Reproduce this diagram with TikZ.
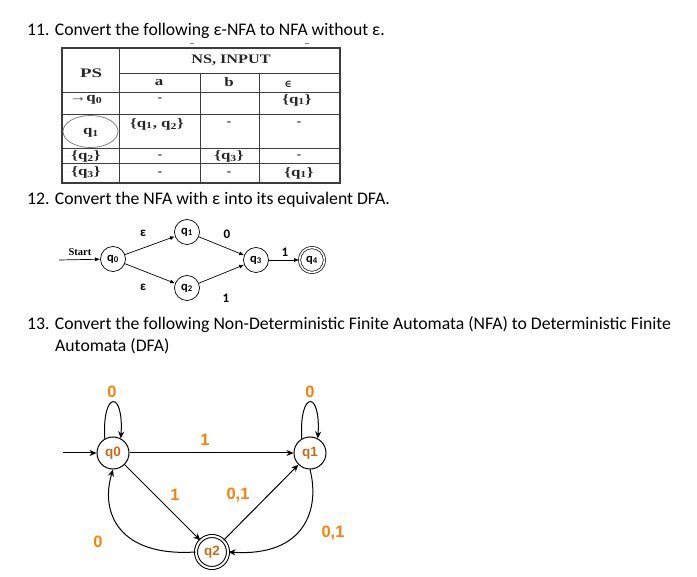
\documentclass[tikz,border=0pt]{standalone}
\usepackage{fontspec}
\setmainfont{Carlito}
\newfontfamily\tabfont{Liberation Serif}
\newfontfamily\arialfont{Liberation Sans}
\usetikzlibrary{arrows.meta}
\definecolor{lblorange}{RGB}{245,130,10}
\definecolor{nodeorange}{RGB}{200,105,25}
\definecolor{tabline}{RGB}{60,60,60}
\newcommand{\tw}[1]{\scalebox{1.3}[1]{#1}}
\begin{document}
\begin{tikzpicture}[x=1pt,y=-1pt,
  heading/.style={anchor=base west, inner sep=0pt, font=\fontsize{17.7}{20}\selectfont},
  tabtxt/.style={inner sep=0pt, font=\tabfont\bfseries\fontsize{13}{14}\selectfont, text=black!85},
  tabln/.style={draw=tabline, line width=0.9pt},
  nfastate/.style={circle, draw, line width=0.7pt, minimum size=25pt, inner sep=0pt, font=\bfseries\fontsize{12.5}{13}\selectfont},
  nfaedge/.style={line width=0.7pt, -{Latex[length=5pt,width=4pt]}},
  nfalbl/.style={inner sep=0pt, font=\bfseries\fontsize{13}{14}\selectfont},
  dfastate/.style={circle, draw, line width=1pt, minimum size=32pt, inner sep=0pt, font=\arialfont\bfseries\fontsize{13.5}{14}\selectfont, text=nodeorange},
  dfaedge/.style={line width=1pt, -{Stealth[length=7pt,width=6pt]}},
  dfalbl/.style={inner sep=0pt, font=\arialfont\bfseries\fontsize{16.5}{17}\selectfont, text=lblorange}
]
\useasboundingbox (0,0) rectangle (697,577);

% ---------- Question 11 ----------
\node[heading] (h11) at (27,36) {11. Convert the following ε-NFA to NFA without ε.};

% small marks above table
\draw[gray, line width=0.8pt] (190,43) -- (194,43);
\draw[gray, line width=0.8pt] (305,43) -- (309,43);

% table grid
\draw[tabln, line width=1.2pt] (62,48) rectangle (340,183);
\draw[tabln] (119,48) -- (119,183);
\draw[tabln] (119,73) -- (340,73);
\draw[tabln] (62,92) -- (340,92);
\draw[tabln] (200,73) -- (200,183);
\draw[tabln] (259,73) -- (259,183);
\draw[tabln] (62,114) -- (340,114);
\draw[tabln] (62,148) -- (340,148);
\draw[tabln] (62,163) -- (340,163);

% table text
\node[tabtxt] (tps) at (91,73) {\scalebox{1.45}[1]{PS}};
\node[tabtxt] (tns) at (231,60) {\scalebox{1.25}[1]{NS, INPUT}};
\node[tabtxt] (ta) at (159,83) {\tw{a}};
\node[tabtxt] (tb) at (229,82) {\tw{b}};
\node[tabtxt] (te) at (288,84) {\fontspec{DejaVu Serif}\fontsize{10}{11}\selectfont ∈};
\node[tabtxt] (r0c0) at (86,100) {\tw{→q\textsubscript{0}}};
\node[tabtxt] (r0c1) at (160,100) {-};
\node[tabtxt] (r0c3) at (297,100) {\tw{\{q\textsubscript{1}\}}};
\draw[gray, line width=0.8pt] (90.5,131.5) ellipse [x radius=27.5, y radius=16];
\node[tabtxt] (r1c0) at (91,133) {\tw{q\textsubscript{1}}};
\node[tabtxt] (r1c1) at (157,124) {\tw{\{q\textsubscript{1}, q\textsubscript{2}\}}};
\node[tabtxt] (r1c2) at (229,124) {-};
\node[tabtxt] (r1c3) at (299,124) {-};
\node[tabtxt] (r2c0) at (86,156) {\tw{\{q\textsubscript{2}\}}};
\node[tabtxt] (r2c1) at (160,157) {-};
\node[tabtxt] (r2c2) at (229,156) {\tw{\{q\textsubscript{3}\}}};
\node[tabtxt] (r2c3) at (299,157) {-};
\node[tabtxt] (r3c0) at (86,172) {\tw{\{q\textsubscript{3}\}}};
\node[tabtxt] (r3c1) at (160,174) {-};
\node[tabtxt] (r3c2) at (229,174) {-};
\node[tabtxt] (r3c3) at (299,173) {\tw{\{q\textsubscript{1}\}}};

% ---------- Question 12 ----------
\node[heading] (h12) at (27,205) {12. Convert the NFA with ε into its equivalent DFA.};

\node[nfastate] (n0) at (113,259) {q\textsubscript{0}};
\node[nfastate] (n1) at (187,232) {q\textsubscript{1}};
\node[nfastate] (n2) at (187,288) {q\textsubscript{2}};
\node[nfastate] (n3) at (256,260) {q\textsubscript{3}};
\node[nfastate, double, double distance=1.6pt] (n4) at (312,260) {q\textsubscript{4}};
\coordinate (nstart) at (59,260);

\draw[nfaedge] (nstart) -- (n0);
\draw[nfaedge] (n0) -- (n1);
\draw[nfaedge] (n0) -- (n2);
\draw[nfaedge] (n1) -- (n3);
\draw[nfaedge] (n2) -- (n3);
\draw[nfaedge] (n3) -- (n4);

\node[inner sep=0pt, font=\tabfont\bfseries\fontsize{10.5}{11}\selectfont] (lstart) at (80,252) {Start};
\node[nfalbl] (le1) at (143,233) {ε};
\node[nfalbl] (le2) at (143,287) {ε};
\node[nfalbl] (l0) at (227,234) {0};
\node[nfalbl] (l1a) at (226,298) {1};
\node[nfalbl] (l1b) at (285,252) {1};

% ---------- Question 13 ----------
\node[heading] (h13a) at (27,330) {13. Convert the following Non-Deterministic Finite Automata (NFA) to Deterministic Finite};
\node[heading] (h13b) at (55,352) {Automata (DFA)};

\node[dfastate] (d0) at (113,453) {q0};
\node[dfastate] (d1) at (310,453) {q1};
\node[dfastate, double, double distance=2pt] (d2) at (212,552) {q2};
\coordinate (dstart) at (63,453);

\draw[dfaedge] (dstart) -- (d0);
\draw[dfaedge] (d0.120) .. controls (102,390) and (124,390) .. (d0.62);
\draw[dfaedge] (d1.120) .. controls (299,390) and (321,390) .. (d1.62);
\draw[dfaedge] (d0) -- (d1);
\draw[dfaedge] (d0) -- (d2);
\draw[dfaedge] (d2) -- (d1);
\draw[dfaedge] (d2.west) .. controls (118,557) and (100,512) .. (d0.south);
\draw[dfaedge] (d1.south) .. controls (320,508) and (306,557) .. (d2.east);

\node[dfalbl] (ld00) at (112,392) {0};
\node[dfalbl] (ld11) at (310,392) {0};
\node[dfalbl] (ld01) at (205,440) {1};
\node[dfalbl] (ld02) at (175,495) {1};
\node[dfalbl] (ld21) at (238,495) {0,1};
\node[dfalbl] (ld20) at (98,542) {0};
\node[dfalbl] (ld12) at (333,533) {0,1};
\end{tikzpicture}
\end{document}
